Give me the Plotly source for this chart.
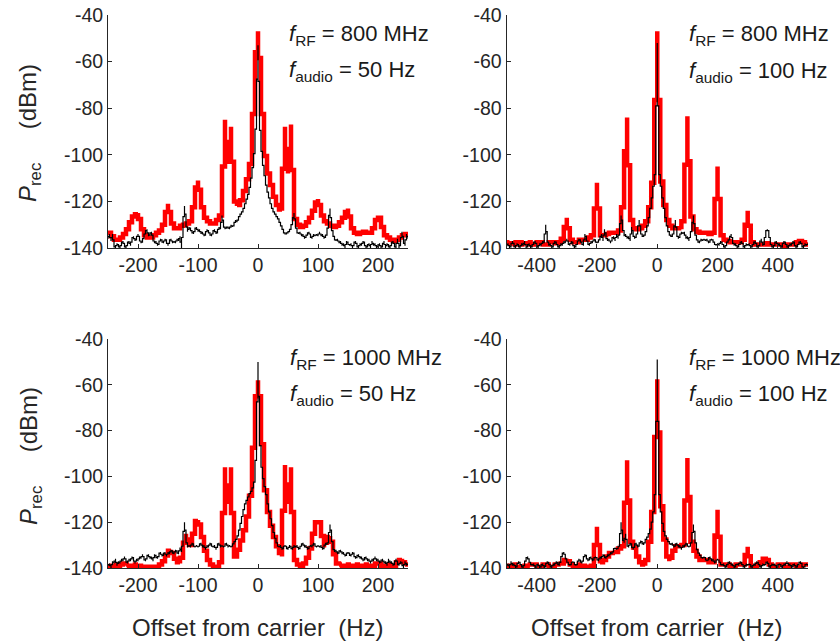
import numpy as np
import plotly.graph_objects as go

# ---------------- data (dBm) ----------------
# Left panels: offset -250..250 Hz ; right panels: -500..500 Hz
tl_red = [
    -133, -134, -136, -137, -136, -135, -133, -131, -127, -126,
    -125, -130, -134, -135, -136, -135, -134, -133, -132, -128,
    -121, -128, -131, -132, -131, -130, -130, -129, -128, -117,
    -111, -119, -126, -128, -129, -130, -129, -127, -125, -85,
    -104, -88, -118, -122, -121, -118, -113, -108, -100, -65,
    -47,
    -70, -95, -106, -110, -116, -120, -123, -124, -88, -108,
    -87, -126, -129, -131, -131, -130, -128, -126, -122, -119,
    -124, -128, -129, -130, -131, -131, -130, -128, -126, -123,
    -130, -133, -134, -134, -133, -133, -134, -133, -130, -126,
    -128, -134, -135, -136, -137, -137, -136, -135, -134, -134,
]
tl_blk = [
    -136, -134, -137, -134, -139, -140, -138, -139, -140, -138,
    -137, -139, -140, -138, -137, -139, -136, -135, -137, -136,
    -134, -136, -138, -137, -135, -133, -132, -135, -134, -133,
    -136, -138, -137, -139, -138, -136, -137, -138, -136, -137,
    -139, -137, -136, -138, -137, -138, -136, -137, -135, -140,
    -131, -122, -129, -133, -131, -132, -133, -134, -132, -131,
    -133, -132, -134, -133, -135, -134, -132, -133, -134, -135,
    -133, -132, -134, -133, -131, -132, -126, -130, -132, -131,
    -131, -132, -130, -131, -130, -128, -129, -127, -126, -125,
    -124, -122, -120, -118, -116, -112, -108, -103, -96, -82,
    -53,
    -84, -95, -102, -107, -111, -115, -117, -120, -122, -124,
    -125, -126, -127, -128, -130, -131, -133, -134, -134, -133,
    -133, -131, -129, -125, -130, -133, -134, -133, -135, -134,
    -136, -135, -134, -133, -135, -136, -134, -135, -134, -135,
    -133, -135, -134, -136, -135, -134, -129, -123, -131, -134,
    -136, -137, -136, -138, -137, -139, -138, -140, -137, -138,
    -139, -138, -140, -138, -137, -139, -140, -138, -139, -137,
    -138, -140, -139, -138, -140, -137, -139, -138, -140, -139,
    -138, -140, -139, -137, -140, -138, -139, -140, -138, -137,
    -139, -140, -136, -140, -138, -133, -137, -139, -134, -136,
]
tr_red = [
    -138, -137, -139, -138, -137, -138, -139, -137, -138, -139,
    -138, -137, -138, -139, -138, -137, -138, -138, -137, -135,
    -127, -136, -137, -138, -137, -136, -137, -136, -135, -134,
    -112, -134, -135, -134, -134, -133, -134, -133, -132, -113,
    -84, -125, -131, -132, -132, -131, -130, -127, -118, -106,
    -47,
    -106, -117, -126, -130, -131, -132, -131, -132, -125, -83.5,
    -122, -131, -133, -133, -134, -133, -134, -134, -133, -105,
    -133, -136, -137, -137, -138, -137, -138, -137, -136, -124,
    -137, -138, -139, -138, -139, -138, -138, -139, -138, -139,
    -138, -139, -139, -138, -139, -138, -137, -137, -138, -139,
]
tr_blk = [
    -139, -138, -140, -139, -137, -139, -140, -138, -139, -140,
    -138, -139, -137, -140, -139, -138, -140, -139, -138, -137,
    -139, -140, -138, -139, -137, -138, -130, -136, -139, -138,
    -140, -139, -137, -138, -139, -140, -138, -139, -137, -138,
    -136, -138, -139, -137, -138, -140, -139, -138, -136, -137,
    -138, -139, -134, -136, -138, -139, -137, -138, -136, -137,
    -138, -137, -136, -134, -137, -132, -135, -137, -136, -138,
    -136, -135, -137, -134, -136, -133, -126, -130, -135, -134,
    -136, -135, -137, -131, -134, -136, -135, -133, -128, -133,
    -135, -135, -134, -132, -129, -125, -121, -116, -111, -106,
    -52,
    -106, -111, -116, -121, -125, -129, -132, -134, -135, -135,
    -133, -128, -134, -136, -135, -133, -134, -133, -136, -135,
    -137, -134, -132, -126, -133, -136, -137, -138, -136, -137,
    -136, -137, -136, -138, -137, -136, -137, -138, -139, -138,
    -139, -137, -138, -139, -140, -138, -137, -136, -134, -137,
    -139, -138, -140, -139, -138, -137, -139, -140, -138, -139,
    -138, -140, -139, -138, -137, -139, -140, -138, -136, -139,
    -138, -133, -132, -133, -138, -139, -140, -138, -137, -139,
    -138, -140, -139, -137, -138, -139, -140, -138, -139, -137,
    -138, -140, -139, -138, -137, -139, -140, -138, -139, -138,
]
bl_red = [
    -139, -140, -138, -139, -140, -137, -139, -138, -140, -139,
    -138, -140, -139, -140, -140, -139, -140, -139, -138, -136,
    -133, -132, -135, -137, -138, -133, -125, -130, -130, -120,
    -119, -123, -130, -135, -138, -139, -140, -139, -136, -96,
    -112, -96, -136, -134, -130, -126, -121, -114, -103, -72,
    -58,
    -72, -100, -112, -119, -124, -129, -132, -135, -95, -112,
    -96, -135, -138, -139, -139, -137, -134, -129, -121, -119,
    -121, -131, -127, -126, -131, -137, -139, -138, -140, -139,
    -138, -140, -139, -138, -140, -139, -138, -140, -139, -137,
    -139, -140, -138, -139, -140, -138, -137, -136, -139, -138,
]
bl_blk = [
    -139, -138, -140, -137, -138, -136, -139, -137, -138, -136,
    -137, -135, -137, -138, -136, -137, -135, -136, -138, -136,
    -137, -135, -136, -134, -136, -137, -135, -134, -136, -135,
    -137, -134, -135, -136, -134, -133, -135, -134, -133, -135,
    -133, -134, -132, -133, -134, -132, -133, -134, -131, -133,
    -128, -120, -127, -131, -130, -131, -129, -130, -131, -130,
    -131, -130, -129, -131, -130, -132, -130, -131, -129, -130,
    -131, -130, -132, -130, -129, -131, -130, -131, -130, -129,
    -131, -130, -131, -130, -129, -128, -127, -125, -122, -119,
    -116, -113, -111, -110, -108, -107, -106, -104, -101, -85,
    -50,
    -80, -93, -99, -103, -106, -110, -114, -117, -120, -123,
    -126, -128, -130, -131, -130, -132, -131, -130, -131, -132,
    -130, -131, -132, -130, -131, -130, -132, -131, -130, -129,
    -131, -130, -132, -131, -130, -131, -129, -130, -131, -130,
    -131, -130, -132, -131, -129, -130, -128, -121, -126, -131,
    -133, -132, -134, -133, -132, -134, -133, -135, -134, -133,
    -134, -135, -133, -134, -136, -135, -134, -136, -135, -137,
    -136, -135, -137, -136, -138, -136, -137, -135, -137, -136,
    -138, -137, -136, -138, -137, -139, -136, -138, -137, -139,
    -138, -136, -138, -139, -137, -138, -140, -137, -139, -138,
]
br_red = [
    -139, -140, -138, -139, -140, -139, -140, -138, -139, -138,
    -139, -140, -139, -138, -139, -140, -139, -138, -139, -137,
    -136, -138, -139, -140, -139, -138, -140, -139, -140, -138,
    -122, -138, -137, -136, -134, -133, -134, -132, -131, -130,
    -93, -128, -129, -133, -137, -138, -139, -134, -123, -108,
    -57.6,
    -104, -122, -133, -137, -134, -131, -130, -131, -129, -92,
    -126, -131, -134, -136, -137, -136, -137, -138, -137, -114.6,
    -138, -139, -138, -139, -140, -139, -138, -139, -138, -130.7,
    -139, -140, -139, -138, -137, -135, -138, -139, -140, -139,
    -138, -139, -140, -139, -138, -139, -140, -139, -138, -139,
]
br_blk = [
    -139, -138, -140, -137, -139, -138, -140, -139, -137, -138,
    -139, -140, -138, -136, -135, -137, -138, -139, -138, -140,
    -139, -138, -140, -139, -138, -140, -139, -137, -138, -139,
    -140, -138, -139, -137, -138, -139, -136, -134, -133, -135,
    -137, -138, -139, -138, -137, -138, -139, -138, -136, -137,
    -138, -136, -134, -135, -137, -136, -135, -137, -136, -135,
    -136, -137, -135, -136, -134, -135, -136, -134, -135, -133,
    -134, -132, -131, -132, -131, -130, -120, -127, -129, -125,
    -130, -131, -129, -130, -132, -130, -129, -131, -130, -128,
    -129, -130, -128, -127, -126, -124, -122, -118, -113, -103,
    -49,
    -103, -113, -118, -123, -125, -127, -128, -129, -130, -129,
    -131, -130, -129, -131, -130, -132, -130, -131, -129, -130,
    -131, -130, -128, -121, -127, -131, -133, -134, -135, -136,
    -135, -136, -137, -136, -135, -137, -136, -138, -137, -136,
    -137, -138, -139, -138, -140, -139, -138, -137, -139, -138,
    -140, -139, -138, -139, -137, -138, -139, -140, -138, -139,
    -138, -139, -140, -138, -139, -137, -138, -139, -140, -138,
    -139, -138, -137, -139, -140, -138, -139, -138, -140, -139,
    -138, -139, -140, -138, -139, -137, -139, -138, -140, -139,
    -138, -140, -139, -138, -137, -139, -140, -139, -138, -139,
]

x_ticks_left = [-200, -100, 0, 100, 200]
x_ticks_right = [-400, -200, 0, 200, 400]
y_ticks = [-140, -120, -100, -80, -60, -40]
panel_labels = [
    ("800", "50"), ("800", "100"), ("1000", "50"), ("1000", "100"),
]

W, H = 840, 643
FONT = "Liberation Sans, Arial, Helvetica, sans-serif"
AX = "#262626"


def xs(start, step, n):
    return start + step * np.arange(n)


fig = go.Figure()
panels = [
    (tl_red, tl_blk, -250, 5, 2.5, "x", "y"),
    (tr_red, tr_blk, -500, 10, 5, "x2", "y2"),
    (bl_red, bl_blk, -250, 5, 2.5, "x3", "y3"),
    (br_red, br_blk, -500, 10, 5, "x4", "y4"),
]
for red, blk, x0, sr, sb, xa, ya in panels:
    fig.add_trace(go.Scatter(x=xs(x0, sr, len(red)), y=red, mode="lines",
                             line=dict(color="#ff0000", width=4.5, shape="vhv"),
                             xaxis=xa, yaxis=ya, showlegend=False,
                             hoverinfo="skip"))
    fig.add_trace(go.Scatter(x=xs(x0, sb, len(blk)), y=blk, mode="lines",
                             line=dict(color="#000000", width=1.2, shape="vhv"),
                             xaxis=xa, yaxis=ya, showlegend=False,
                             hoverinfo="skip"))

px = lambda v: v / W
py = lambda v: 1 - v / H

xdom_l = [px(108), px(408)]
xdom_r = [px(506.5), px(808)]
ydom_t = [py(248), py(15)]
ydom_b = [py(568), py(339)]

common = dict(showline=True, linecolor=AX, linewidth=1, ticks="inside",
              ticklen=4, tickcolor=AX, tickwidth=1, showgrid=False,
              zeroline=False, mirror=False, automargin=False,
              tickfont=dict(family=FONT, size=19.5, color=AX))

layout = dict(width=W, height=H, margin=dict(l=0, r=0, t=0, b=0, pad=0),
              paper_bgcolor="white", plot_bgcolor="white", showlegend=False)
axes_spec = [
    ("xaxis", "yaxis", xdom_l, ydom_t, [-250, 250], x_ticks_left, "y", "x"),
    ("xaxis2", "yaxis2", xdom_r, ydom_t, [-500, 500], x_ticks_right, "y2", "x2"),
    ("xaxis3", "yaxis3", xdom_l, ydom_b, [-250, 250], x_ticks_left, "y3", "x3"),
    ("xaxis4", "yaxis4", xdom_r, ydom_b, [-500, 500], x_ticks_right, "y4", "x4"),
]
for xk, yk, xd, yd, xr, xt, yanc, xanc in axes_spec:
    layout[xk] = dict(common, domain=xd, range=xr, tickvals=xt,
                      ticktext=[str(v) for v in xt], anchor=yanc)
    layout[yk] = dict(common, domain=yd, range=[-140, -40], tickvals=y_ticks,
                      ticktext=[str(v) for v in y_ticks], anchor=xanc)
fig.update_layout(**layout)

ann = []
afont = dict(family=FONT, size=22, color="#1a1a1a")
pos = [(287, 35, 71), (687, 35, 72), (288, 359, 395), (687, 359, 395)]
for (rf, au), (ax_, y1, y2) in zip(panel_labels, pos):
    ann.append(dict(x=px(ax_), y=py(y1), xref="paper", yref="paper",
                    xanchor="left", yanchor="middle", showarrow=False,
                    text=f"<i>f</i><sub>RF</sub> = {rf} MHz", font=afont))
    ann.append(dict(x=px(ax_), y=py(y2), xref="paper", yref="paper",
                    xanchor="left", yanchor="middle", showarrow=False,
                    text=f"<i>f</i><sub>audio</sub> = {au} Hz", font=afont))

tfont = dict(family=FONT, size=24, color=AX)
for yc in (133, 456):
    ann.append(dict(x=px(30), y=py(yc), xref="paper", yref="paper",
                    xanchor="center", yanchor="middle", showarrow=False,
                    textangle=-90,
                    text="<i>P</i><sub>rec</sub>\u00a0\u00a0\u00a0\u00a0\u00a0(dBm)",
                    font=tfont))
for xc in (258, 657):
    ann.append(dict(x=px(xc), y=py(627), xref="paper", yref="paper",
                    xanchor="center", yanchor="middle", showarrow=False,
                    text="Offset from carrier\u00a0\u00a0(Hz)",
                    font=dict(family=FONT, size=24, color=AX)))
fig.update_layout(annotations=ann)

fig.write_html("out.html",
               config={"displayModeBar": False, "staticPlot": True},
               post_script="document.body.style.margin='0';"
                           "document.body.style.padding='0';")
